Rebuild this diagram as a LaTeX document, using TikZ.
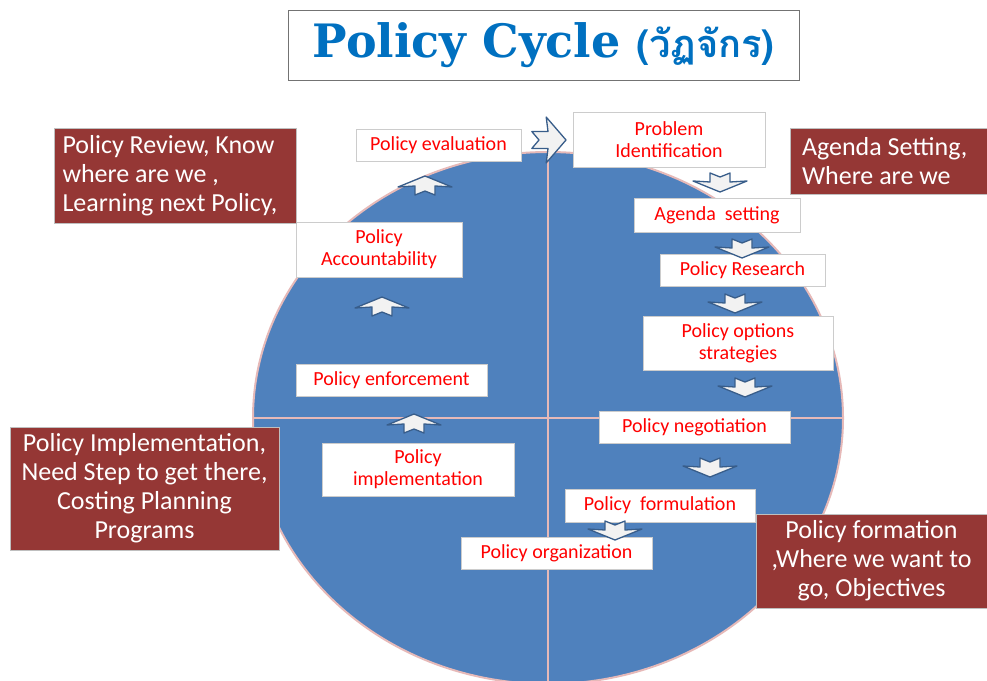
\documentclass[tikz,border=0pt]{standalone}
\usepackage{fontspec}
\setmainfont{Carlito}
\newfontfamily\titlefont{DejaVu Serif}
\newfontfamily\thaifont[Script=Thai]{Loma}
\usetikzlibrary{positioning}
\definecolor{cycleblue}{HTML}{4F81BD}
\definecolor{rimpink}{HTML}{E6B9B8}
\definecolor{boxred}{HTML}{953735}
\definecolor{chevblue}{HTML}{385D8A}
\definecolor{titleblue}{HTML}{0070C0}
\tikzset{
  wbox/.style={draw=black!20, fill=white, text=red, align=center, inner sep=2pt,
    font=\fontsize{20}{22}\selectfont},
  rbox/.style={draw=black!25, fill=boxred, text=white, inner ysep=2pt,
    font=\fontsize{26}{29}\selectfont},
  chevron/.style={draw=chevblue, fill=black!5, line width=1.3pt, line join=round},
  chev/.pic={\path[chevron] (0,-10) -- (27,1) -- (10,0) -- (10,9) -- (0,5)
    -- (-10,9) -- (-10,0) -- (-27,1) -- cycle;}
}
\begin{document}
\begin{tikzpicture}[x=1pt,y=-1pt]
\useasboundingbox (0,0) rectangle (987,680);
\clip (0,0) rectangle (987,680);
% title
\node[draw=black!55, line width=1pt, minimum width=511, minimum height=70, text=titleblue]
  (title) at (543.5,45)
  {\titlefont\bfseries\fontsize{46}{50}\selectfont Policy Cycle
   {\thaifont\bfseries\fontsize{38}{40}\selectfont (วัฏจักร)}};
% the cycle
\fill[cycleblue, draw=rimpink, line width=2pt] (548,418) ellipse [x radius=295, y radius=266];
\begin{scope}
  \clip (548,418) ellipse [x radius=294, y radius=265];
  \draw[rimpink, line width=2pt] (240,418) -- (860,418) (548,140) -- (548,700);
\end{scope}
% steps
\node[wbox, minimum width=165, minimum height=32] (evaluation) at (438.5,145) {Policy evaluation};
\node[wbox, minimum width=192, minimum height=55] (problem) at (669,139.5) {Problem\\Identification};
\node[wbox, minimum width=166, minimum height=34] (agenda) at (717,215) {Agenda\ \ setting};
\node[wbox, minimum width=165, minimum height=32] (research) at (742.5,270) {Policy Research};
\node[wbox, minimum width=190, minimum height=54] (options) at (738,343) {Policy options\\strategies};
\node[wbox, minimum width=191, minimum height=32] (negotiation) at (694.5,427) {Policy negotiation};
\node[wbox, minimum width=190, minimum height=33] (formulation) at (660,505.5) {Policy\ \ formulation};
\node[wbox, minimum width=191, minimum height=32] (organization) at (556.5,553) {Policy organization};
\node[wbox, minimum width=192, minimum height=53] (implementation) at (418,469.5) {Policy\\implementation};
\node[wbox, minimum width=191, minimum height=32] (enforcement) at (391.5,380) {Policy enforcement};
\node[wbox, minimum width=166, minimum height=55] (accountability) at (379,249.5) {Policy\\Accountability};
% arrows between steps
\pic[rotate=-90, xscale=.85, yscale=1.8] at (548,140) {chev};
\pic[rotate=180] at (720,182) {chev};
\pic[rotate=180] at (742,248) {chev};
\pic[rotate=180] at (735,303) {chev};
\pic[rotate=180] at (745,387) {chev};
\pic[rotate=180] at (710,467) {chev};
\pic[rotate=180] at (615,530) {chev};
\pic at (414,424) {chev};
\pic at (382,307) {chev};
\pic at (425,186) {chev};
% phases
\node[rbox, inner xsep=8.5pt, text width=225, minimum height=95, align=flush left]
  (review) at (175,175.5) {Policy Review, Know\\where are we ,\\Learning next Policy,};
\node[rbox, inner xsep=12pt, text width=173, minimum height=66, align=flush left]
  (agendaset) at (888.5,161) {Agenda Setting,\\Where are we};
\node[rbox, inner xsep=4pt, text width=261, minimum height=123, align=flush center]
  (implement) at (144.5,488.5) {Policy Implementation,\\Need Step to get there,\\Costing Planning\\Programs};
\node[rbox, inner xsep=4pt, text width=223, minimum height=94, align=flush center]
  (formation) at (871.5,561) {Policy formation\\,Where we want to\\go, Objectives};
\end{tikzpicture}
\end{document}
